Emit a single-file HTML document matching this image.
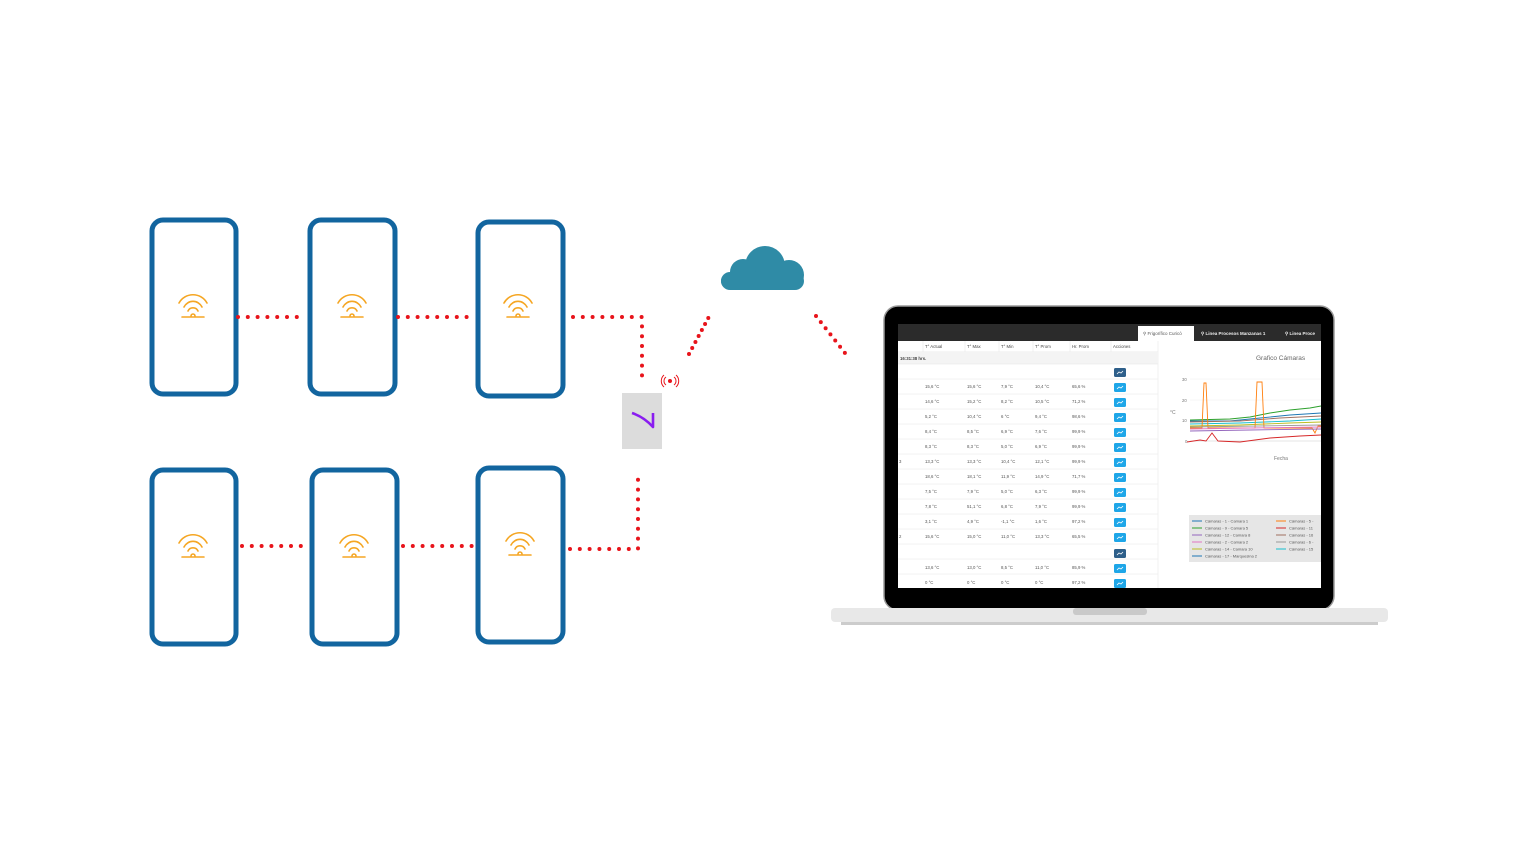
<!DOCTYPE html>
<html><head><meta charset="utf-8"><style>
html,body{margin:0;padding:0;background:#fff;}
svg{display:block;font-family:"Liberation Sans",sans-serif;}
</style></head><body>
<svg width="1536" height="864" viewBox="0 0 1536 864" xmlns="http://www.w3.org/2000/svg">
<defs>
<g id="wifi" fill="none" stroke="#f5a623" stroke-width="1.6" stroke-linecap="round">
<path d="M-14,-5 A16,16 0 0 1 14,-5"/>
<path d="M-9,-1 A10,10 0 0 1 9,-1"/>
<path d="M-5,3 A5.5,5.5 0 0 1 5,3"/>
<path d="M-2,8 A2,2 0 0 1 2,8"/>
<line x1="-11" y1="9" x2="11" y2="9"/>
</g>
<g id="btn"><rect x="0" y="0" width="12" height="9" rx="1.5" fill="#1ea6e8"/><path d="M3,6 L5,4 L7,5 L9,3" stroke="#fff" stroke-width="0.8" fill="none"/></g>
<g id="btnd"><rect x="0" y="0" width="12" height="9" rx="1.5" fill="#2e5f8a"/><path d="M3,6 L5,4 L7,5 L9,3" stroke="#fff" stroke-width="0.8" fill="none"/></g>
</defs>

<g fill="none" stroke="#12659f" stroke-width="5">
<rect x="152" y="220" width="84" height="174" rx="11"/>
<rect x="310" y="220" width="85" height="174" rx="11"/>
<rect x="478" y="222" width="85" height="174" rx="11"/>
<rect x="152" y="470" width="84" height="174" rx="11"/>
<rect x="312" y="470" width="85" height="174" rx="11"/>
<rect x="478" y="468" width="85" height="174" rx="11"/>
</g>
<use href="#wifi" x="193" y="308"/>
<use href="#wifi" x="352" y="308"/>
<use href="#wifi" x="518" y="308"/>
<use href="#wifi" x="193" y="548"/>
<use href="#wifi" x="354" y="548"/>
<use href="#wifi" x="520" y="546"/>

<g stroke="#e8141b" stroke-width="4" stroke-linecap="round" stroke-dasharray="0 9.8" fill="none">
<line x1="238" y1="317" x2="306" y2="317"/>
<line x1="398" y1="317" x2="470" y2="317"/>
<polyline points="573,317 642,317 642,385"/>
<line x1="242" y1="546" x2="310" y2="546"/>
<line x1="403" y1="546" x2="472" y2="546"/>
<polyline points="570,549 638,549 638,473"/>
<line x1="689" y1="354" x2="711" y2="313" stroke-dasharray="0 6.8"/>
<line x1="816" y1="316" x2="845" y2="353" stroke-dasharray="0 7.8"/>
</g>

<rect x="622" y="393" width="40" height="56" fill="#dcdcdc"/>
<path d="M632,413 Q644,417 653,427 L653,413" fill="none" stroke="#8a1df0" stroke-width="2.6" stroke-linejoin="round"/>
<g fill="none" stroke="#e8141b" stroke-width="1">
<circle cx="670" cy="381" r="1.5" fill="#e8141b"/>
<path d="M666,377 A5,5 0 0 0 666,385"/><path d="M674,377 A5,5 0 0 1 674,385"/>
<path d="M664,375 A8,8 0 0 0 664,387"/><path d="M676,375 A8,8 0 0 1 676,387"/>
</g>

<g fill="#2f8ba6">
<circle cx="765" cy="266" r="20"/>
<circle cx="743" cy="272" r="13"/>
<circle cx="789" cy="275" r="15"/>
<circle cx="729" cy="281" r="8"/>
<rect x="721" y="272" width="83" height="18" rx="9"/>
</g>

<rect x="884" y="306" width="450" height="304" rx="14" fill="#000" stroke="#9a9a9a" stroke-width="1.5"/>
<rect x="831" y="608" width="557" height="14" rx="4" fill="#e8e8e8"/>
<rect x="1073" y="608" width="74" height="7" rx="3" fill="#c9c9c9"/>
<rect x="841" y="622" width="537" height="3" fill="#cccccc"/>

<rect x="898" y="324" width="423" height="264" fill="#fff"/>
<rect x="898" y="324" width="423" height="17" fill="#2b2b2b"/>
<rect x="1138" y="326" width="56" height="15" fill="#fff"/>
<g font-size="4.5" fill="#555">
<text x="1143" y="335">⚲ Frigorífico Curicó</text>
<text x="1201" y="335" fill="#eee" font-weight="bold">⚲ Linea Procesos Manzanas 1</text>
<text x="1285" y="335" fill="#eee" font-weight="bold">⚲ Linea Proce</text>
</g>
<g font-size="4.3" fill="#444">
<line x1="898" y1="352" x2="1158" y2="352" stroke="#ddd" stroke-width="0.6"/>
<g stroke="#e5e5e5" stroke-width="0.5">
<line x1="923" y1="341" x2="923" y2="352"/><line x1="965" y1="341" x2="965" y2="352"/>
<line x1="999" y1="341" x2="999" y2="352"/><line x1="1033" y1="341" x2="1033" y2="352"/>
<line x1="1070" y1="341" x2="1070" y2="352"/><line x1="1111" y1="341" x2="1111" y2="352"/>
<line x1="1158" y1="341" x2="1158" y2="588"/>
</g>
<text x="925" y="348">T° Actual</text><text x="967" y="348">T° Max</text><text x="1001" y="348">T° Min</text>
<text x="1035" y="348">T° Prom</text><text x="1072" y="348">Hr. Prom</text><text x="1113" y="348">Acciones</text>
<rect x="898" y="352" width="260" height="12" fill="#f4f4f4"/>
<text x="900" y="360" font-weight="bold">16:31:38 hrs.</text>
</g>
<g font-size="4.3" fill="#555" stroke="none">
<g stroke="#e6e6e6" stroke-width="0.5">
<line x1="898" y1="364" x2="1158" y2="364"/><line x1="898" y1="379" x2="1158" y2="379"/>
<line x1="898" y1="394" x2="1158" y2="394"/><line x1="898" y1="409" x2="1158" y2="409"/>
<line x1="898" y1="424" x2="1158" y2="424"/><line x1="898" y1="439" x2="1158" y2="439"/>
<line x1="898" y1="454" x2="1158" y2="454"/><line x1="898" y1="469" x2="1158" y2="469"/>
<line x1="898" y1="484" x2="1158" y2="484"/><line x1="898" y1="499" x2="1158" y2="499"/>
<line x1="898" y1="514" x2="1158" y2="514"/><line x1="898" y1="529" x2="1158" y2="529"/>
<line x1="898" y1="544" x2="1158" y2="544"/><line x1="898" y1="559" x2="1158" y2="559"/>
<line x1="898" y1="574" x2="1158" y2="574"/>
</g>
<use href="#btnd" x="1114" y="368"/>
<text y="388"><tspan x="925">15,6 °C</tspan><tspan x="967">15,6 °C</tspan><tspan x="1001">7,9 °C</tspan><tspan x="1035">10,4 °C</tspan><tspan x="1072">65,6 %</tspan></text><use href="#btn" x="1114" y="383"/>
<text y="403"><tspan x="925">14,6 °C</tspan><tspan x="967">15,2 °C</tspan><tspan x="1001">8,2 °C</tspan><tspan x="1035">10,5 °C</tspan><tspan x="1072">71,2 %</tspan></text><use href="#btn" x="1114" y="398"/>
<text y="418"><tspan x="925">5,2 °C</tspan><tspan x="967">10,4 °C</tspan><tspan x="1001">6 °C</tspan><tspan x="1035">9,4 °C</tspan><tspan x="1072">98,6 %</tspan></text><use href="#btn" x="1114" y="413"/>
<text y="433"><tspan x="925">8,4 °C</tspan><tspan x="967">8,5 °C</tspan><tspan x="1001">6,9 °C</tspan><tspan x="1035">7,6 °C</tspan><tspan x="1072">99,9 %</tspan></text><use href="#btn" x="1114" y="428"/>
<text y="448"><tspan x="925">8,3 °C</tspan><tspan x="967">8,3 °C</tspan><tspan x="1001">5,0 °C</tspan><tspan x="1035">6,9 °C</tspan><tspan x="1072">99,9 %</tspan></text><use href="#btn" x="1114" y="443"/>
<text y="463"><tspan x="899">3</tspan><tspan x="925">13,3 °C</tspan><tspan x="967">13,3 °C</tspan><tspan x="1001">10,4 °C</tspan><tspan x="1035">12,1 °C</tspan><tspan x="1072">99,9 %</tspan></text><use href="#btn" x="1114" y="458"/>
<text y="478"><tspan x="925">18,6 °C</tspan><tspan x="967">18,1 °C</tspan><tspan x="1001">11,9 °C</tspan><tspan x="1035">14,9 °C</tspan><tspan x="1072">71,7 %</tspan></text><use href="#btn" x="1114" y="473"/>
<text y="493"><tspan x="925">7,5 °C</tspan><tspan x="967">7,9 °C</tspan><tspan x="1001">5,0 °C</tspan><tspan x="1035">6,3 °C</tspan><tspan x="1072">99,9 %</tspan></text><use href="#btn" x="1114" y="488"/>
<text y="508"><tspan x="925">7,8 °C</tspan><tspan x="967">51,1 °C</tspan><tspan x="1001">6,8 °C</tspan><tspan x="1035">7,9 °C</tspan><tspan x="1072">99,9 %</tspan></text><use href="#btn" x="1114" y="503"/>
<text y="523"><tspan x="925">3,1 °C</tspan><tspan x="967">4,9 °C</tspan><tspan x="1001">-1,1 °C</tspan><tspan x="1035">1,6 °C</tspan><tspan x="1072">97,2 %</tspan></text><use href="#btn" x="1114" y="518"/>
<text y="538"><tspan x="899">2</tspan><tspan x="925">15,6 °C</tspan><tspan x="967">15,0 °C</tspan><tspan x="1001">11,0 °C</tspan><tspan x="1035">13,3 °C</tspan><tspan x="1072">65,5 %</tspan></text><use href="#btn" x="1114" y="533"/>
<use href="#btnd" x="1114" y="549"/>
<text y="569"><tspan x="925">13,6 °C</tspan><tspan x="967">13,0 °C</tspan><tspan x="1001">8,5 °C</tspan><tspan x="1035">11,0 °C</tspan><tspan x="1072">85,9 %</tspan></text><use href="#btn" x="1114" y="564"/>
<text y="584"><tspan x="925">0 °C</tspan><tspan x="967">0 °C</tspan><tspan x="1001">0 °C</tspan><tspan x="1035">0 °C</tspan><tspan x="1072">97,2 %</tspan></text><use href="#btn" x="1114" y="579"/>
</g>

<text x="1256" y="360" font-size="6.5" fill="#666">Grafico Cámaras</text>
<g font-size="4.3" fill="#777">
<text x="1182" y="381">30</text><text x="1182" y="402">20</text><text x="1182" y="422">10</text><text x="1185" y="443">0</text>
<text x="1170" y="414" font-size="5">°C</text>
<text x="1274" y="460" font-size="5">Fecha</text>
</g>
<g stroke="#eee" stroke-width="0.5">
<line x1="1190" y1="379" x2="1321" y2="379"/><line x1="1190" y1="400" x2="1321" y2="400"/>
<line x1="1190" y1="420" x2="1321" y2="420"/><line x1="1190" y1="441" x2="1321" y2="441" stroke="#ccc"/>
</g>
<g fill="none" stroke-width="0.9">
<path d="M1190,420 L1230,419 L1250,417 L1270,413 L1290,410 L1310,408 L1321,406" stroke="#2ca02c"/>
<path d="M1190,421 L1230,421 L1260,418 L1290,415 L1321,413" stroke="#1f77b4"/>
<path d="M1190,422 L1240,421 L1280,418 L1321,416" stroke="#a07060"/>
<path d="M1190,424 L1240,423 L1290,421 L1321,419" stroke="#17becf"/>
<path d="M1190,426 L1240,425 L1290,423 L1321,422" stroke="#bcbd22"/>
<path d="M1190,428 L1202,428 L1204,383 L1206,383 L1208,428 L1255,428 L1257,382 L1262,382 L1264,428 L1312,428 L1315,433 L1318,426 L1321,426" stroke="#ff7f0e"/>
<path d="M1190,429 L1250,428 L1321,427" stroke="#e377c2"/>
<path d="M1190,431 L1250,430 L1321,429" stroke="#9467bd"/>
<path d="M1190,427 L1321,425" stroke="#999"/>
<path d="M1187,442 L1200,440 L1206,441 L1212,433 L1218,441 L1240,442 L1270,438 L1300,436 L1321,435" stroke="#d62728"/>
</g>
<rect x="1189" y="515" width="132" height="47" fill="#e6e6e6"/>
<g font-size="4" fill="#555">
<g stroke-width="1"><line x1="1192" y1="521" x2="1202" y2="521" stroke="#1f77b4"/><line x1="1192" y1="528" x2="1202" y2="528" stroke="#2ca02c"/><line x1="1192" y1="535" x2="1202" y2="535" stroke="#9467bd"/><line x1="1192" y1="542" x2="1202" y2="542" stroke="#e377c2"/><line x1="1192" y1="549" x2="1202" y2="549" stroke="#bcbd22"/><line x1="1192" y1="556" x2="1202" y2="556" stroke="#1f77b4"/>
<line x1="1276" y1="521" x2="1286" y2="521" stroke="#ff7f0e"/><line x1="1276" y1="528" x2="1286" y2="528" stroke="#d62728"/><line x1="1276" y1="535" x2="1286" y2="535" stroke="#a07060"/><line x1="1276" y1="542" x2="1286" y2="542" stroke="#999"/><line x1="1276" y1="549" x2="1286" y2="549" stroke="#17becf"/></g>
<text x="1205" y="522.5">Cámaras - 1 - Camara 1</text><text x="1205" y="529.5">Cámaras - 9 - Camara 5</text><text x="1205" y="536.5">Cámaras - 12 - Camara 8</text><text x="1205" y="543.5">Cámaras - 2 - Camara 2</text><text x="1205" y="550.5">Cámaras - 14 - Camara 10</text><text x="1205" y="557.5">Cámaras - 17 - Marquesina 2</text>
<text x="1289" y="522.5">Cámaras - 5 -</text><text x="1289" y="529.5">Cámaras - 11</text><text x="1289" y="536.5">Cámaras - 16</text><text x="1289" y="543.5">Cámaras - 6 -</text><text x="1289" y="550.5">Cámaras - 15</text>
</g>
</svg>
</body></html>
